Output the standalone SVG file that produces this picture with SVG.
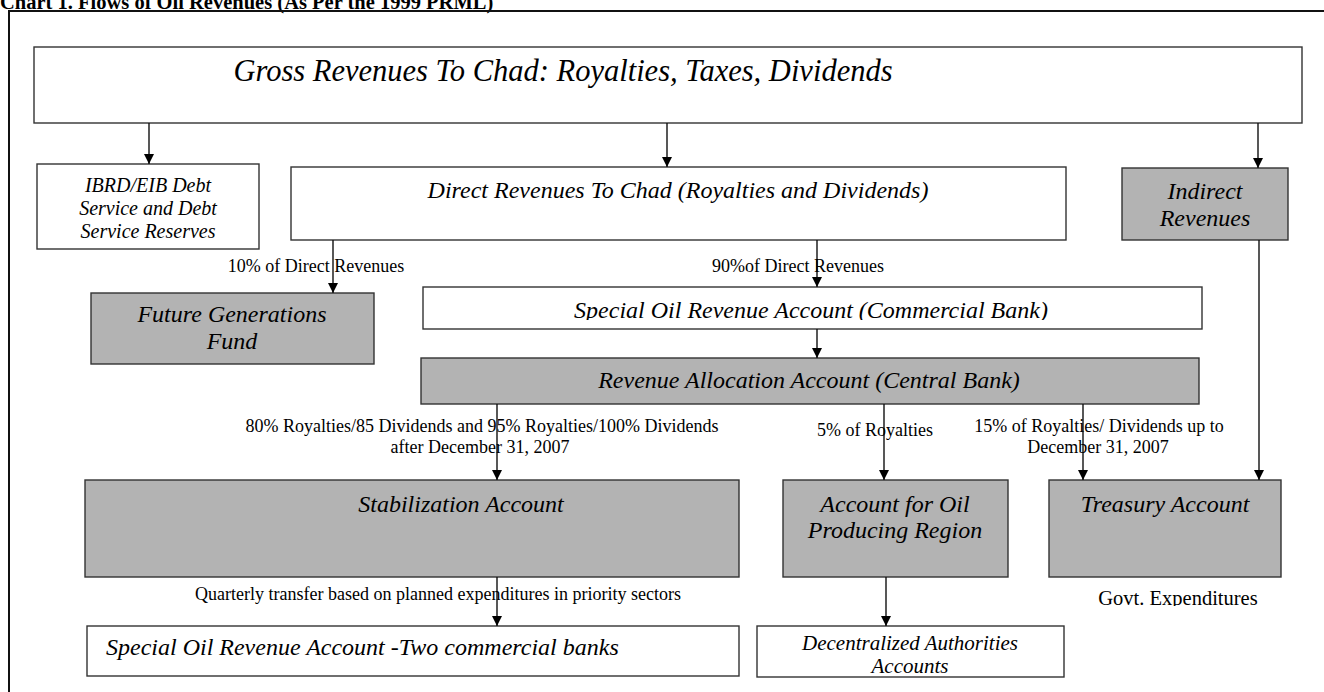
<svg xmlns="http://www.w3.org/2000/svg" width="1324" height="692" viewBox="0 0 1324 692">
<style>
.box{fill:#ffffff;stroke:#333333;stroke-width:1.4}
.grey{fill:#b3b3b3;stroke:#333333;stroke-width:1.4}
.nt{font-family:"Liberation Serif","Times New Roman",serif;font-style:italic;font-size:24px;fill:#000;text-anchor:middle}
.sm{font-size:20px}
.lb{font-family:"Liberation Serif","Times New Roman",serif;font-size:18px;fill:#000;text-anchor:middle}
.title{font-family:"Liberation Serif","Times New Roman",serif;font-weight:bold;font-size:20.5px;fill:#000}
.con{stroke:#111;stroke-width:1.4;fill:none;marker-end:url(#ah)}
</style>
<defs>
<marker id="ah" viewBox="0 0 10 10" refX="10" refY="5" markerWidth="10" markerHeight="10" markerUnits="userSpaceOnUse" orient="auto">
<path d="M0,0 L10,5 L0,10 Z" fill="#000"/>
</marker>
<clipPath id="clipSpecial"><rect x="423" y="287" width="779" height="33"/></clipPath>
<clipPath id="clipGovt"><rect x="1080" y="580" width="200" height="26"/></clipPath>
</defs>
<rect width="1324" height="692" fill="#ffffff"/>
<text class="title" x="0" y="9">Chart 1. Flows of Oil Revenues (As Per the 1999 PRML)</text>
<rect x="9" y="11" width="1340" height="700" fill="none" stroke="#111" stroke-width="2"/>

<g id="gross"><rect class="box" x="34" y="47" width="1268" height="76"/>
<text class="nt" x="563" y="81" style="font-size:30.5px">Gross Revenues To Chad: Royalties, Taxes, Dividends</text></g>
<g id="ibrd"><rect class="box" x="37" y="164" width="222" height="85"/>
<text class="nt sm" x="148" y="192">IBRD/EIB Debt</text>
<text class="nt sm" x="148" y="215">Service and Debt</text>
<text class="nt sm" x="148" y="238">Service Reserves</text></g>
<g id="direct"><rect class="box" x="291" y="167" width="775" height="73"/>
<text class="nt" x="678" y="198">Direct Revenues To Chad (Royalties and Dividends)</text></g>
<g id="indirect"><rect class="grey" x="1122" y="168" width="166" height="72"/>
<text class="nt" x="1205" y="199">Indirect</text>
<text class="nt" x="1205" y="226">Revenues</text></g>
<g id="future"><rect class="grey" x="91" y="293" width="283" height="71"/>
<text class="nt" x="232" y="322">Future Generations</text>
<text class="nt" x="232" y="349">Fund</text></g>
<g id="special"><rect class="box" x="423" y="287" width="779" height="42"/>
<g clip-path="url(#clipSpecial)"><text class="nt" x="811" y="318">Special Oil Revenue Account (Commercial Bank)</text></g></g>
<g id="allocation"><rect class="grey" x="421" y="358" width="778" height="46"/>
<text class="nt" x="809" y="388">Revenue Allocation Account (Central Bank)</text></g>
<g id="stabilization"><rect class="grey" x="85" y="480" width="654" height="97"/>
<text class="nt" x="461" y="512">Stabilization Account</text></g>
<g id="oilregion"><rect class="grey" x="783" y="480" width="225" height="97"/>
<text class="nt" x="895" y="512">Account for Oil</text>
<text class="nt" x="895" y="538">Producing Region</text></g>
<g id="treasury"><rect class="grey" x="1049" y="480" width="232" height="97"/>
<text class="nt" x="1165" y="512">Treasury Account</text></g>
<g id="special2"><rect class="box" x="87" y="626" width="652" height="50"/>
<text class="nt" x="106" y="655" style="text-anchor:start">Special Oil Revenue Account -Two commercial banks</text></g>
<g id="decentralized"><rect class="box" x="757" y="626" width="307" height="51"/>
<text class="nt" x="910" y="650" style="font-size:21px">Decentralized Authorities</text>
<text class="nt" x="910" y="673" style="font-size:21px">Accounts</text></g>

<g id="connectors">
<line class="con" x1="149" y1="123" x2="149" y2="164"/>
<line class="con" x1="667" y1="123" x2="667" y2="167"/>
<line class="con" x1="1258" y1="123" x2="1258" y2="168"/>
<line class="con" x1="333" y1="240" x2="333" y2="293"/>
<line class="con" x1="817" y1="240" x2="817" y2="287"/>
<line class="con" x1="817" y1="329" x2="817" y2="358"/>
<line class="con" x1="497" y1="404" x2="497" y2="480"/>
<line class="con" x1="884" y1="404" x2="884" y2="480"/>
<line class="con" x1="1083" y1="404" x2="1083" y2="480"/>
<line class="con" x1="1259" y1="240" x2="1259" y2="480"/>
<line class="con" x1="497" y1="577" x2="497" y2="626"/>
<line class="con" x1="886" y1="577" x2="886" y2="626"/>
</g>
<g id="labels">
<text class="lb" x="316" y="272">10% of Direct Revenues</text>
<text class="lb" x="798" y="272">90%of Direct Revenues</text>
<text class="lb" x="482" y="432">80% Royalties/85 Dividends and 95% Royalties/100% Dividends</text>
<text class="lb" x="480" y="453">after December 31, 2007</text>
<text class="lb" x="875" y="436">5% of Royalties</text>
<text class="lb" x="1099" y="432">15% of Royalties/ Dividends up to</text>
<text class="lb" x="1098" y="453">December 31, 2007</text>
<text class="lb" x="438" y="600">Quarterly transfer based on planned expenditures in priority sectors</text>
<g clip-path="url(#clipGovt)"><text class="lb" x="1178" y="605" style="font-size:20.5px">Govt. Expenditures</text></g>
</g>
</svg>
